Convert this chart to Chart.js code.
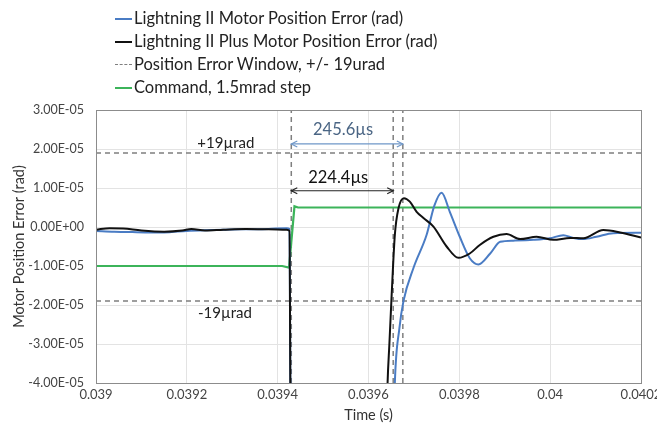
<!DOCTYPE html>
<html>
<head>
<meta charset="utf-8">
<script src="https://cdn.jsdelivr.net/npm/chart.js@4/dist/chart.umd.min.js"></script>
<style>
  body { margin: 0; background: #fff; font-family: Lato, "Liberation Sans", sans-serif; }
  .wrap { position: relative; width: 657px; height: 428px; }
  #legend { position: absolute; left: 115px; top: 7px; }
  .lg-item { height: 23px; line-height: 23px; font-size: 16.5px; color: #222; white-space: nowrap; }
  .lg-item .swatch { display: inline-block; width: 17px; vertical-align: middle; margin-right: 2px; position: relative; top: -1px; }
</style>
</head>
<body>
<div class="wrap">
  <canvas id="chart" width="657" height="428"></canvas>
  <div id="legend"></div>
</div>
<script>
(function () {
    'use strict';

    // --- data ---
    var blueTime = [0.03900, 0.03904, 0.03908, 0.03915, 0.03920, 0.03926, 0.03932, 0.03938, 0.03942, 0.039426, 0.039429,
        0.039654, 0.039658, 0.039668, 0.039677, 0.039699, 0.039728, 0.039745, 0.039761, 0.039779, 0.039801, 0.039823, 0.039842,
        0.039868, 0.039890, 0.039919, 0.039963, 0.039999, 0.040029, 0.040051, 0.040073, 0.040102, 0.040139, 0.040200];
    var blueError = [-1.0e-6, -1.2e-6, -1.3e-6, -1.4e-6, -1.0e-6, -0.8e-6, -0.6e-6, -0.5e-6, -0.3e-6, -0.5e-6, -6e-5,
        -6e-5, -4.0e-5, -2.6e-5, -1.9e-5, -1.05e-5, -2.0e-6, 5.5e-6, 8.8e-6, 3.9e-6, -2.5e-6, -8.0e-6, -9.6e-6,
        -6.8e-6, -3.8e-6, -3.5e-6, -3.3e-6, -2.9e-6, -2.1e-6, -2.8e-6, -3.1e-6, -2.5e-6, -1.6e-6, -1.5e-6];

    var blackTime = [0.03900, 0.03903, 0.03906, 0.03910, 0.03915, 0.03919, 0.03921, 0.03924, 0.03928, 0.03933, 0.03938, 0.03942, 0.039426, 0.039429,
        0.039638, 0.039642, 0.039646, 0.039651, 0.039658, 0.039666, 0.039678, 0.039691, 0.039706, 0.039721, 0.039743, 0.039772, 0.039798,
        0.039823, 0.039845, 0.039875, 0.039904, 0.039934, 0.039970, 0.040007, 0.040044, 0.040073, 0.040117, 0.040154, 0.040200];
    var blackError = [-0.7e-6, -0.3e-6, -0.4e-6, -0.9e-6, -1.2e-6, -0.9e-6, -0.5e-6, -0.9e-6, -0.7e-6, -0.5e-6, -0.6e-6, -0.7e-6, -1.0e-6, -6e-5,
        -6e-5, -4.0e-5, -3.0e-5, -1.74e-5, -2.0e-6, 4.8e-6, 7.4e-6, 6.5e-6, 3.9e-6, 2.3e-6, 0.1e-6, -5.0e-6, -7.9e-6,
        -6.8e-6, -4.6e-6, -2.5e-6, -1.8e-6, -3.1e-6, -2.5e-6, -3.3e-6, -2.8e-6, -2.9e-6, -0.8e-6, -1.4e-6, -2.7e-6];

    var commandTime = [0.03900, 0.03941, 0.039425, 0.039437, 0.039445, 0.04020];
    var commandValue = [-1.0e-5, -1.0e-5, -1.04e-5, 5.3e-6, 5.0e-6, 5.0e-6];

    var windowTime = [0.03900, 0.04020];
    var windowLimit = 1.9e-5;

    var markerTimes = [0.03943, 0.0396544, 0.0396756];   // step, black settle, blue settle
    var yRange = [-4e-5, 3e-5];
    var xRange = [0.039, 0.0402];

    var labelBlue = 'Lightning II Motor Position Error (rad)';
    var labelBlack = 'Lightning II Plus Motor Position Error (rad)';
    var labelWindow = 'Position Error Window, +/- 19urad';
    var labelCommand = 'Command, 1.5mrad step';

    var BLUE = '#4a7cc4', BLACK = '#111111', GREEN = '#3cb45a', GREY = '#7f7f7f';
    var FONT = 'Lato, "Liberation Sans", sans-serif';

    function pts(xs, ys) {
        return xs.map(function (x, i) { return { x: x, y: ys[i] }; });
    }
    function sci(v) {
        if (Math.abs(v) < 1e-15) return '0.00E+00';
        var e = Math.floor(Math.log10(Math.abs(v)) + 1e-9);
        var m = v / Math.pow(10, e);
        var es = (e < 0 ? '-' : '+') + (Math.abs(e) < 10 ? '0' : '') + Math.abs(e);
        return m.toFixed(2) + 'E' + es;
    }

    // lower "order" is drawn on top
    var datasets = [
        { label: labelWindow, order: 4, data: pts(windowTime, windowTime.map(function () { return windowLimit; })),
          borderColor: GREY, borderWidth: 1.5, borderDash: [5, 4], pointRadius: 0, tension: 0 },
        { label: '', order: 4, data: pts(windowTime, windowTime.map(function () { return -windowLimit; })),
          borderColor: GREY, borderWidth: 1.5, borderDash: [5, 4], pointRadius: 0, tension: 0 },
        { label: labelCommand, order: 2, data: pts(commandTime, commandValue),
          borderColor: GREEN, borderWidth: 2.2, pointRadius: 0, tension: 0 },
        { label: labelBlue, order: 1, data: pts(blueTime, blueError),
          borderColor: BLUE, borderWidth: 2, pointRadius: 0, cubicInterpolationMode: 'monotone' },
        { label: labelBlack, order: 0, data: pts(blackTime, blackError),
          borderColor: BLACK, borderWidth: 2, pointRadius: 0, cubicInterpolationMode: 'monotone' }
    ];
    markerTimes.forEach(function (t) {
        datasets.push({ label: '', order: 3, data: pts([t, t], yRange), borderColor: GREY, borderWidth: 1.5,
            borderDash: [5, 4], pointRadius: 0, tension: 0 });
    });

    function arrow(ctx, x1, x2, y, color) {
        ctx.save();
        ctx.strokeStyle = color; ctx.fillStyle = color; ctx.lineWidth = 1.2;
        ctx.beginPath(); ctx.moveTo(x1, y); ctx.lineTo(x2, y); ctx.stroke();
        [[x1, 1], [x2, -1]].forEach(function (a) {
            ctx.beginPath();
            ctx.moveTo(a[0] + a[1] * 6, y - 3); ctx.lineTo(a[0], y); ctx.lineTo(a[0] + a[1] * 6, y + 3);
            ctx.stroke();
        });
        ctx.restore();
    }

    var annotations = {
        id: 'annotations',
        afterDatasetsDraw: function (chart) {
            var ctx = chart.ctx, xs = chart.scales.x, ys = chart.scales.y, a = chart.chartArea;
            ctx.save();
            ctx.strokeStyle = '#8c8c8c'; ctx.lineWidth = 1;
            ctx.strokeRect(a.left + 0.5, a.top + 0.5, a.right - a.left, a.bottom - a.top);
            ctx.textAlign = 'center'; ctx.textBaseline = 'middle';
            ctx.font = '15px ' + FONT;
            ctx.fillStyle = '#222';
            ctx.fillText('+19\u00b5rad', xs.getPixelForValue(0.039286), ys.getPixelForValue(2.15e-5));
            ctx.fillText('-19\u00b5rad', xs.getPixelForValue(0.039284), ys.getPixelForValue(-2.2e-5));
            var x0 = xs.getPixelForValue(markerTimes[0]);
            var x1 = xs.getPixelForValue(markerTimes[1]);
            var x2 = xs.getPixelForValue(markerTimes[2]);
            ctx.font = '16.5px ' + FONT;
            ctx.fillStyle = '#4a6584';
            ctx.fillText('245.6\u00b5s', (x0 + x2) / 2 - 4, ys.getPixelForValue(2.49e-5));
            ctx.fillStyle = '#111';
            ctx.fillText('224.4\u00b5s', (x0 + x1) / 2 - 4, ys.getPixelForValue(1.26e-5));
            ctx.restore();
            arrow(ctx, x0, x2, ys.getPixelForValue(2.13e-5), '#6f97c8');
            arrow(ctx, x0, x1, ys.getPixelForValue(0.93e-5), '#222');
        }
    };

    new Chart(document.getElementById('chart').getContext('2d'), {
        type: 'line',
        data: { datasets: datasets },
        options: {
            responsive: false,
            animation: false,
            layout: { padding: { top: 110, right: 16, left: 7, bottom: 0 } },
            plugins: { legend: { display: false }, tooltip: { enabled: false } },
            scales: {
                x: {
                    type: 'linear', min: xRange[0], max: xRange[1],
                    grid: { color: '#e3e3e3', drawTicks: false },
                    border: { display: false },
                    ticks: { stepSize: 0.0002, padding: 4, color: '#444', font: { size: 13, family: FONT },
                        callback: function (v) { return String(parseFloat(v.toFixed(5))); } },
                    title: { display: true, text: 'Time (s)', color: '#333', padding: { top: 1 },
                        font: { size: 14.5, family: FONT } },
                    // let the last tick label hang over the right padding
                    afterFit: function (s) { s.height = 45; s.paddingRight = 0; s.paddingLeft = 0; }
                },
                y: {
                    min: yRange[0], max: yRange[1],
                    grid: { color: '#e3e3e3', drawTicks: false },
                    border: { display: false },
                    ticks: { stepSize: 1e-5, padding: 12, color: '#444', font: { size: 12.5, family: FONT },
                        callback: function (v) { return sci(v); } },
                    title: { display: true, text: 'Motor Position Error (rad)', color: '#333', padding: { bottom: 4 },
                        font: { size: 14.5, family: FONT } },
                    afterFit: function (s) { s.width = 89; }
                }
            }
        },
        plugins: [annotations]
    });

    // legend: one entry per row, like the source
    var legendItems = [
        { text: labelBlue, color: BLUE, dash: false },
        { text: labelBlack, color: BLACK, dash: false },
        { text: labelWindow, color: GREY, dash: true },
        { text: labelCommand, color: GREEN, dash: false }
    ];
    var lg = document.getElementById('legend');
    legendItems.forEach(function (it) {
        var row = document.createElement('div');
        row.className = 'lg-item';
        var sw = document.createElement('span');
        sw.className = 'swatch';
        sw.style.borderTop = (it.dash ? '1.5px dashed ' : '2px solid ') + it.color;
        row.appendChild(sw);
        row.appendChild(document.createTextNode(it.text));
        lg.appendChild(row);
    });
})();
</script>
</body>
</html>
